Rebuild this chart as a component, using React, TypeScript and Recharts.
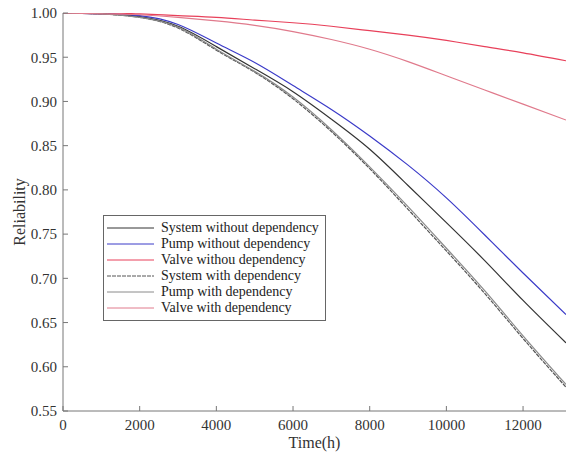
import { LineChart, Line, XAxis, YAxis } from 'recharts'

const times = [0, 1000, 2000, 3000, 4000, 5000, 6000, 7000, 8000, 9000, 10000, 11000, 12000, 13120]

const systemWithout = [1.0, 0.999, 0.996, 0.985, 0.962, 0.937, 0.911, 0.88, 0.846, 0.805, 0.763, 0.72, 0.675, 0.627]
const pumpWithout = [1.0, 0.999, 0.997, 0.987, 0.966, 0.944, 0.918, 0.891, 0.861, 0.828, 0.791, 0.749, 0.706, 0.659]
const valveWithout = [1.0, 1.0, 0.999, 0.997, 0.995, 0.992, 0.989, 0.985, 0.98, 0.975, 0.969, 0.962, 0.955, 0.946]
const systemWith = [1.0, 0.999, 0.995, 0.983, 0.958, 0.933, 0.903, 0.866, 0.824, 0.778, 0.731, 0.683, 0.632, 0.577]
const pumpWith = [1.0, 0.999, 0.995, 0.984, 0.959, 0.934, 0.905, 0.868, 0.826, 0.781, 0.734, 0.686, 0.635, 0.58]
const valveWith = [1.0, 0.999, 0.998, 0.995, 0.991, 0.986, 0.979, 0.97, 0.959, 0.945, 0.929, 0.913, 0.897, 0.879]

const xTicks = [0, 2000, 4000, 6000, 8000, 10000, 12000]
const yTicks = [0.55, 0.6, 0.65, 0.7, 0.75, 0.8, 0.85, 0.9, 0.95, 1.0]

const series = [
  { key: 'systemWithout', name: 'System without dependency', color: '#333333', dash: undefined },
  { key: 'pumpWithout', name: 'Pump without dependency', color: '#3a3ac8', dash: undefined },
  { key: 'valveWithout', name: 'Valve withou dependency', color: '#e8405a', dash: undefined },
  { key: 'systemWith', name: 'System with dependency', color: '#555555', dash: '4 1' },
  { key: 'pumpWith', name: 'Pump with dependency', color: '#8a8a8a', dash: undefined },
  { key: 'valveWith', name: 'Valve with dependency', color: '#e07a8c', dash: undefined },
]

const data = times.map((t, i) => ({
  t,
  systemWithout: systemWithout[i],
  pumpWithout: pumpWithout[i],
  valveWithout: valveWithout[i],
  systemWith: systemWith[i],
  pumpWith: pumpWith[i],
  valveWith: valveWith[i],
}))

const font = '"Liberation Serif", "Times New Roman", serif'

function LegendBox() {
  return (
    <div
      style={{
        position: 'absolute',
        left: 103,
        top: 215,
        border: '1px solid #666',
        background: '#fff',
        padding: '4px 6px 4px 3px',
        fontFamily: font,
        fontSize: 14,
        color: '#222',
      }}
    >
      {series.map((s) => (
        <div key={s.key} style={{ display: 'flex', alignItems: 'center', height: 16 }}>
          <svg width={48} height={6} style={{ marginRight: 6 }}>
            <line x1={0} y1={3} x2={47} y2={3} stroke={s.color} strokeWidth={1} strokeDasharray={s.dash} />
          </svg>
          <span style={{ whiteSpace: 'nowrap' }}>{s.name}</span>
        </div>
      ))}
    </div>
  )
}

export default function App() {
  const tickStyle = { fontFamily: font, fontSize: 15, fill: '#333' }
  return (
    <div style={{ position: 'absolute', left: 0, top: 0, width: 566, height: 459, background: '#fff' }}>
      <LineChart width={566} height={459} data={data} margin={{ top: 13, right: 0, bottom: 0, left: 0 }}>
        <XAxis
          dataKey="t"
          type="number"
          domain={[0, 13120]}
          ticks={xTicks}
          allowDataOverflow
          height={48}
          tick={tickStyle}
          tickSize={-5}
          tickMargin={13}
          stroke="#777"
          label={{ value: 'Time(h)', position: 'insideBottom', offset: 11, style: { fontFamily: font, fontSize: 16, fill: '#333' } }}
        />
        <XAxis
          xAxisId="top"
          orientation="top"
          dataKey="t"
          type="number"
          domain={[0, 13120]}
          ticks={xTicks}
          allowDataOverflow
          height={0}
          tick={false}
          tickSize={-5}
          stroke="#777"
        />
        <YAxis
          domain={[0.55, 1.0]}
          ticks={yTicks}
          width={63}
          allowDataOverflow
          tick={tickStyle}
          tickFormatter={(v: number) => v.toFixed(2)}
          tickSize={-5}
          tickMargin={11}
          stroke="#777"
          label={{ value: 'Reliability', angle: -90, position: 'insideLeft', offset: 19, style: { fontFamily: font, fontSize: 16, fill: '#333', textAnchor: 'middle' } }}
        />
        <YAxis
          yAxisId="right"
          orientation="right"
          domain={[0.55, 1.0]}
          ticks={yTicks}
          width={0}
          tick={false}
          tickSize={-5}
          stroke="#777"
        />
        {series.map((s) => (
          <Line
            key={s.key}
            type="natural"
            dataKey={s.key}
            name={s.name}
            stroke={s.color}
            strokeWidth={1.2}
            strokeDasharray={s.dash}
            dot={false}
            isAnimationActive={false}
          />
        ))}
      </LineChart>
      <LegendBox />
    </div>
  )
}
